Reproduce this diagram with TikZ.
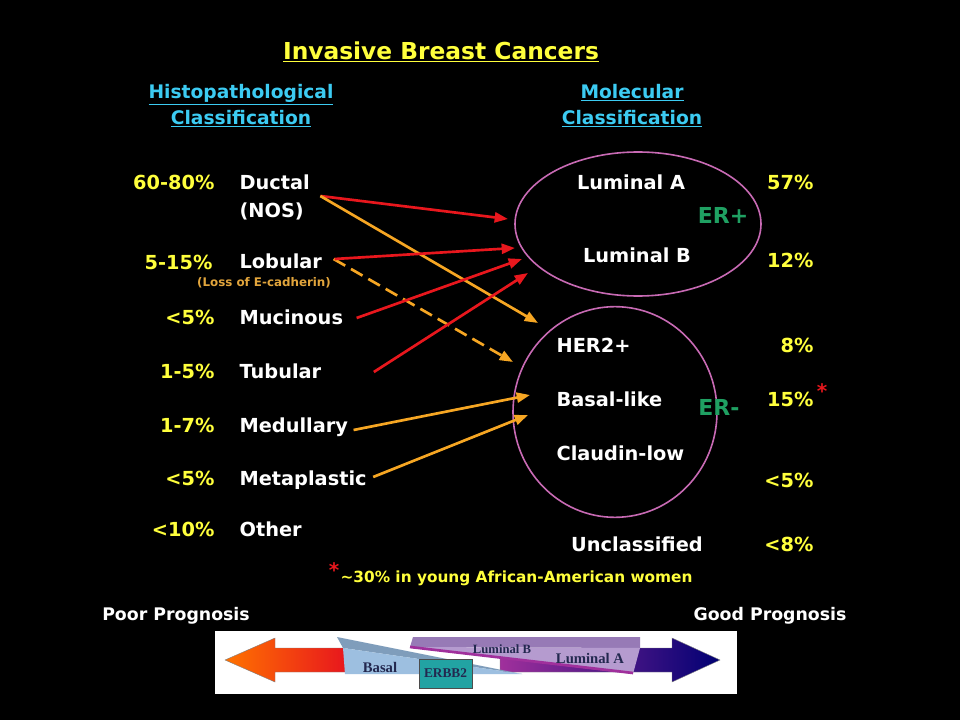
\documentclass[tikz,border=0pt]{standalone}
\usepackage{fontspec}
\setmainfont{DejaVu Sans}
\newfontfamily\figserif{Liberation Serif}
\usepackage{tikz}
\usetikzlibrary{arrows.meta,shapes.geometric,positioning}
\usepackage{xcolor}
\definecolor{txtyellow}{HTML}{FFFF3C}
\definecolor{headcyan}{HTML}{3CCBF2}
\definecolor{arrred}{HTML}{E8171D}
\definecolor{arrorange}{HTML}{F6A623}
\definecolor{ellmag}{HTML}{C86AB4}
\definecolor{ergreen}{HTML}{1FA062}
\definecolor{lossorange}{HTML}{E2A53C}
\definecolor{basalblue}{HTML}{9DBFE0}
\definecolor{basaltop}{HTML}{7F9DBB}
\definecolor{lumfront}{HTML}{B59BCF}
\definecolor{lumtop}{HTML}{977AB6}
\definecolor{lumedge}{HTML}{A0309C}
\definecolor{erbbteal}{HTML}{22A3A3}
\definecolor{figtext}{HTML}{23284F}

\begin{document}
\begin{tikzpicture}[x=0.75pt,y=-0.75pt,
every node/.style={inner sep=1pt},
lbl/.style={font=\fontsize{14.5}{17}\selectfont\bfseries,text=white,text height=1.05em,text depth=0.1em},
pct/.style={lbl,text=txtyellow,anchor=east},
cls/.style={lbl,anchor=west},
hdg/.style={font=\fontsize{14}{19.5}\selectfont\bfseries,text=headcyan,align=center},
ertag/.style={font=\fontsize{16.5}{18}\selectfont\bfseries,text=ergreen},
star/.style={font=\fontsize{15}{15}\selectfont\bfseries,text=arrred},
erset/.style={draw=ellmag,line width=1.2pt,ellipse},
arr/.style={line width=2pt,-{Triangle[length=10pt,width=7.5pt]}},
figlbl/.style={font=\figserif\bfseries,text=figtext}]
\useasboundingbox (0,0) rectangle (960,720);
\fill[black] (0,0) rectangle (960,720);
% headings
\node[font=\fontsize{17.5}{20}\selectfont\bfseries,text=txtyellow] (title) at (441,52) {\underline{Invasive Breast Cancers}};
\node[hdg] (histo) at (241,106) {\underline{Histopathological}\\\underline{Classification}};
\node[hdg] (molec) at (632,106) {\underline{Molecular}\\\underline{Classification}};
% histopathological types
\node[pct] (pD) at (216,183) {60-80\%};
\node[pct] (pL) at (214,263) {5-15\%};
\node[pct] (pM) at (216,318) {<5\%};
\node[pct] (pT) at (216,372) {1-5\%};
\node[pct] (pMe) at (216,426) {1-7\%};
\node[pct] (pMt) at (216,479) {<5\%};
\node[pct] (pO) at (216,530) {<10\%};
\node[cls] (D) at (238,183) {Ductal};
\node[cls] (NOS) at (238,211) {(NOS)};
\node[cls] (L) at (238,262) {Lobular};
\node[font=\fontsize{8.9}{10}\selectfont\bfseries,text=lossorange] (loss) at (264,283) {(Loss of E-cadherin)};
\node[cls] (M) at (238,318) {Mucinous};
\node[cls] (T) at (238,372) {Tubular};
\node[cls] (Me) at (238,426) {Medullary};
\node[cls] (Mt) at (238,479) {Metaplastic};
\node[cls] (O) at (238,530) {Other};
% molecular types
\node[erset,minimum width=184.5pt,minimum height=108pt] (ERpos) at (638,224) {};
\node[erset,minimum width=153pt,minimum height=158pt] (ERneg) at (615,412) {};
\node[lbl] (LA) at (631,183) {Luminal A};
\node[lbl] (LB) at (637,256) {Luminal B};
\node[ertag] (erp) at (723,215) {ER+};
\node[cls] (H) at (555,346) {HER2+};
\node[cls] (B) at (555,400) {Basal-like};
\node[cls] (CL) at (555,454) {Claudin-low};
\node[ertag] (ern) at (719,407) {ER-};
\node[lbl] (U) at (637,545) {Unclassified};
\node[pct] (qLA) at (815,183) {57\%};
\node[pct] (qLB) at (815,261) {12\%};
\node[pct] (qH) at (815,346) {8\%};
\node[pct] (qB) at (815,400) {15\%};
\node[star] (sB) at (822,391) {*};
\node[pct] (qCL) at (815,481) {<5\%};
\node[pct] (qU) at (815,545) {<8\%};
% footnote
\node[star] (sF) at (334,570) {*};
\node[font=\fontsize{11.5}{13}\selectfont\bfseries,text=txtyellow,anchor=west] (foot) at (339,578) {\textasciitilde 30\% in young African-American women};
% arrow ends
\coordinate (eD1) at (508,219);
\coordinate (eL1) at (515,248);
\coordinate (eM) at (522,259);
\coordinate (eT) at (528,273);
\coordinate (eD2) at (538,323);
\coordinate (eL2) at (513,362);
\coordinate (eMe) at (530,395);
\coordinate (eMt) at (528,415);
\draw[arr,arrred] ([shift={(9,13)}]D.east) -- (eD1);
\draw[arr,arrorange] ([shift={(9,13)}]D.east) -- (eD2);
\draw[arr,arrorange,dash pattern=on 10pt off 5pt] ([shift={(10,-3)}]L.east) -- (eL2);
\draw[arr,arrred] ([shift={(11,-3)}]L.east) -- (eL1);
\draw[arr,arrred] ([shift={(12,0)}]M.east) -- (eM);
\draw[arr,arrred] ([shift={(51,0)}]T.east) -- (eT);
\draw[arr,arrorange] ([shift={(4,4)}]Me.east) -- (eMe);
\draw[arr,arrorange] ([shift={(5,-2)}]Mt.east) -- (eMt);
% prognosis scale
\node[lbl,font=\fontsize{13}{15}\selectfont\bfseries] (poor) at (176,614) {Poor Prognosis};
\node[lbl,font=\fontsize{13}{15}\selectfont\bfseries] (good) at (770,614) {Good Prognosis};
\fill[white] (215,631) rectangle (737,694);
\shade[left color=orange!90!red,right color=arrred,draw=black!50,line width=0.3pt]
  (225,660) -- (275,638) -- (275,648) -- (345,648) -- (345,672) -- (275,672) -- (275,682) -- cycle;
\shade[left color=lumedge,right color=blue!45!black,draw=black!50,line width=0.3pt]
  (500,648) -- (672,648) -- (672,638) -- (720,660) -- (672,682) -- (672,672) -- (500,672) -- cycle;
\fill[lumtop] (413,637) -- (640,637) -- (640,648) -- (410,647) -- cycle;
\fill[lumfront] (410,647) -- (640,648) -- (633,674) -- cycle;
\draw[lumedge,line width=2pt] (410,647) -- (633,673);
\fill[basaltop] (337,637) -- (522,674) -- (343,648) -- cycle;
\fill[basalblue] (343,648) -- (522,674) -- (345,674) -- cycle;
\node[figlbl,font=\figserif\bfseries\fontsize{9.5}{10}\selectfont] (lumB) at (502,649) {Luminal B};
\node[figlbl,font=\figserif\bfseries\fontsize{11}{12}\selectfont] (lumA) at (590,658) {Luminal A};
\node[figlbl,font=\figserif\bfseries\fontsize{11}{12}\selectfont] (basal) at (380,667) {Basal};
\node[figlbl,font=\figserif\bfseries\fontsize{10}{11}\selectfont,fill=erbbteal,draw=black!70,line width=0.4pt,minimum width=39.75pt,minimum height=21.75pt] (erbb) at (445.5,673.5) {ERBB2};
\end{tikzpicture}
\end{document}
